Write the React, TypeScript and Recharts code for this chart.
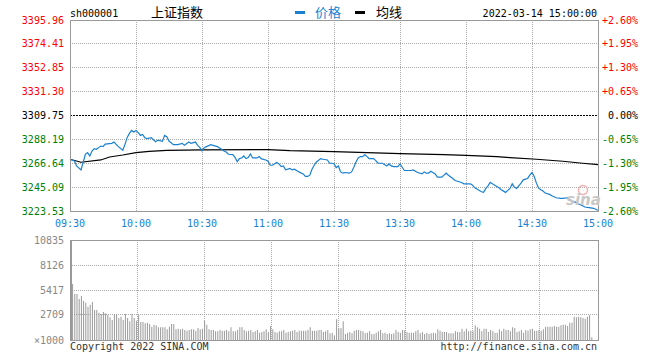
import React from "react";
import {
  LineChart, Line, BarChart, Bar, XAxis, YAxis, CartesianGrid, ReferenceLine,
} from "recharts";

// 上证指数 2022-03-14 intraday, one minute = one step on the time axis (0 = 09:30, 240 = 15:00)
const PREV_CLOSE = 3309.75;
const PRICE_TICKS = [3223.53, 3245.09, 3266.64, 3288.19, 3309.75, 3331.3, 3352.85, 3374.41, 3395.96];
const PCT_LABELS = ["-2.60%", "-1.95%", "-1.30%", "-0.65%", "0.00%", "+0.65%", "+1.30%", "+1.95%", "+2.60%"];
const VOL_TICKS = [0, 2709, 5417, 8126, 10835];
const VOL_LABELS = ["\u00d71000", "2709", "5417", "8126", "10835"];
const TIME_TICKS = [0, 30, 60, 90, 120, 150, 180, 210, 240];
const TIME_LABELS = ["09:30", "10:00", "10:30", "11:00", "11:30", "13:30", "14:00", "14:30", "15:00"];

const PRICE_MIN = [
  0, 2, 3, 5, 6, 7, 8, 9, 10, 11, 12, 13, 14, 15, 16, 19, 20, 21, 22, 24, 25, 26, 27, 28, 29, 30,
  31, 32, 33, 34, 35, 37, 38, 39, 40, 42, 43, 44, 45, 47, 49, 51, 52, 54, 55, 57, 58, 59, 60,
  61, 62, 64, 65, 67, 68, 70, 71, 72, 74, 75, 76, 77, 78, 79, 80, 81, 82, 83, 85, 86, 87, 89, 90,
  91, 92, 94, 95, 96, 97, 98, 100, 101, 102, 103, 104, 106, 107, 108, 109, 110, 111, 112, 114, 115, 117, 118, 119, 120,
  121, 122, 123, 124, 125, 127, 128, 129, 130, 131, 132, 133, 134, 135, 136, 138, 139, 140, 142, 144, 145, 146, 147, 149, 150,
  151, 152, 155, 156, 158, 160, 161, 162, 163, 164, 166, 167, 169, 170, 171, 172, 174, 175, 178, 179, 182, 183, 184, 185,
  187, 188, 189, 190, 191, 192, 194, 195, 196, 198, 199, 200, 201, 202, 203, 204, 205, 206, 207, 208, 209, 210,
  211, 212, 213, 214, 215, 216, 218, 219, 221, 223, 224, 226, 227, 228, 230, 231, 233, 234, 236, 238, 240,
];
const PRICE_VAL = [
  3270.24, 3268.71, 3264.22, 3260.63, 3267.54, 3274.73, 3276.25, 3273.2, 3277.69, 3279.85, 3279.22, 3280.74, 3282.18, 3281.64, 3283.98, 3284.61, 3285.77, 3283.71, 3281.64, 3278.32, 3283.71, 3289.99, 3293.59, 3296.28, 3294.93, 3296.28,
  3294.21, 3291.79, 3292.69, 3289.72, 3288.83, 3289.72, 3287.57, 3286.13, 3287.57, 3286.4, 3291.79, 3290.62, 3286.67, 3283.44, 3283.44, 3284.61, 3282.81, 3285.77, 3284.61, 3285.77, 3282.81, 3281.01, 3277.87,
  3280.74, 3281.64, 3283.44, 3282.81, 3281.64, 3280.39, 3277.69, 3276.79, 3274.73, 3274.46, 3272.03, 3268.17, 3270.87, 3271.41, 3273.2, 3270.87, 3271.76, 3275.0, 3271.41, 3271.41, 3272.66, 3270.51, 3269.61, 3268.44,
  3264.85, 3264.85, 3267.27, 3266.02, 3263.68, 3264.22, 3260.63, 3261.89, 3260.63, 3261.26, 3260.09, 3258.83, 3257.04, 3254.7, 3254.7, 3255.87, 3261.26, 3264.85, 3267.81, 3270.87, 3270.24, 3269.61, 3266.65, 3266.65, 3266.2,
  3262.78, 3264.22, 3258.83, 3257.67, 3258.29, 3257.67, 3258.83, 3263.05, 3267.81, 3271.41, 3272.66, 3272.66, 3274.46, 3272.66, 3270.87, 3270.87, 3269.07, 3266.65, 3266.65, 3264.22, 3266.02, 3264.22, 3263.68, 3263.68, 3266.02,
  3263.05, 3260.09, 3260.09, 3260.63, 3258.29, 3257.04, 3258.83, 3257.67, 3257.67, 3259.46, 3257.04, 3254.07, 3254.07, 3255.87, 3257.67, 3255.87, 3252.91, 3251.11, 3249.31, 3248.06, 3248.06, 3246.89, 3244.47, 3243.3,
  3240.87, 3240.33, 3243.93, 3246.26, 3249.31, 3248.06, 3245.72, 3244.47, 3242.67, 3240.33, 3242.13, 3243.93, 3248.06, 3245.09, 3243.93, 3246.26, 3248.69, 3251.65, 3252.28, 3252.91, 3255.87, 3258.29,
  3254.7, 3248.69, 3244.2, 3242.67, 3241.5, 3239.71, 3238.54, 3237.28, 3235.49, 3234.95, 3234.95, 3235.49, 3234.32, 3232.52, 3231.35, 3230.1, 3228.3, 3227.13, 3226.51, 3225.97, 3224.2,
];

const AVG_MIN = [0, 5, 14, 18, 24, 30, 36, 44, 60, 90, 100, 120, 135, 150, 170, 180, 194, 200, 212, 224, 233, 240];
const AVG_VAL = [
  3270.24, 3267.54, 3269.61, 3272.3, 3274.1, 3276.25, 3277.42, 3278.32, 3278.77, 3278.95, 3278.05,
  3277.15, 3276.25, 3275.36, 3274.46, 3273.83, 3272.66, 3271.76, 3270.24, 3268.44, 3266.65, 3265.48,
];

// volume per minute, in the units of the volume axis labels
const VOLUME = [
  6065, 4982, 4982, 4440, 4765, 4260, 4043, 3610, 3827, 4115, 3249, 3249, 2960, 2816, 3032, 2888, 2744, 2455, 2166, 2744, 2744, 2383, 2527, 2166, 2816, 2383, 2022, 2816, 2383, 2094, 2671,
  1949, 1949, 1805, 1877, 1733, 1444, 1660, 1588, 1372, 1372, 1372, 1372, 1155, 1444, 1733, 1733, 1155, 1227, 1155, 1227, 1083, 1011, 1083, 1155, 1155, 1011, 1300, 1155, 1227, 2050,
  1660, 1155, 1083, 1083, 939, 939, 1083, 1011, 1011, 1083, 939, 1372, 939, 939, 1083, 1372, 1372, 1083, 939, 1011, 1083, 866, 939, 1083, 794, 866, 939, 1155, 866, 1516,
  1155, 866, 794, 939, 939, 1083, 794, 866, 939, 1011, 1083, 866, 1011, 1011, 1011, 1011, 1083, 1372, 1011, 1011, 1011, 1083, 1083, 866, 939, 1083, 722, 794, 505, 2238,
  1227, 1300, 2022, 650, 794, 866, 722, 1011, 1083, 1083, 1011, 939, 722, 794, 939, 650, 650, 794, 939, 1083, 722, 794, 650, 722, 650, 722, 1083, 866, 794,
  1083, 1083, 866, 794, 794, 794, 939, 1083, 722, 866, 650, 794, 650, 722, 794, 722, 1155, 1011, 866, 866, 866, 722, 722, 722, 939, 866, 866, 1227,
  939, 1227, 939, 1011, 939, 1588, 1372, 1227, 939, 1227, 1227, 866, 1083, 939, 794, 794, 1155, 939, 1227, 1083, 1083, 939, 1372, 1300, 866, 939, 1083, 794,
  1083, 1011, 1155, 1227, 1011, 1011, 1083, 1011, 1155, 1444, 1444, 1444, 1444, 1516, 1444, 1444, 1588, 1660, 1660, 1516, 1877, 1877, 2527, 2455, 2527, 2455, 2383, 2310, 2527, 2671,
  289,
];

const RED = "#ff0000";
const GREEN = "#008000";
const BLUE = "#1a80d2";
const GRID = "#aaaaaa";
const FRAME = "#999999";
const MONO = "'DejaVu Sans Mono', 'Liberation Mono', monospace";
const CJK = "'Noto Sans CJK SC', sans-serif";

const priceRows = (() => {
  const m = new Map<number, { t: number; price?: number; avg?: number }>();
  PRICE_MIN.forEach((t, i) => m.set(t, { ...(m.get(t) || { t }), price: PRICE_VAL[i] }));
  AVG_MIN.forEach((t, i) => m.set(t, { ...(m.get(t) || { t }), avg: AVG_VAL[i] }));
  return [...m.values()].sort((a, b) => a.t - b.t);
})();

const volRows = VOLUME.map((v, k) => ({ k, v }));

function PriceTick({ y, payload }: any) {
  const v = payload.value;
  const i = PRICE_TICKS.indexOf(v);
  const color = v > PREV_CLOSE + 0.001 ? RED : v < PREV_CLOSE - 0.001 ? GREEN : "#000";
  return (
    <g fontFamily={MONO} fontSize={10}>
      <text x={64} y={y} dy={3.5} textAnchor="end" fill={color}>{v.toFixed(2)}</text>
      <text x={638} y={y} dy={3.5} textAnchor="end" fill={color}>{PCT_LABELS[i]}</text>
    </g>
  );
}

function TimeTick({ x, payload }: any) {
  const i = TIME_TICKS.indexOf(payload.value);
  return (
    <text x={x} y={227} textAnchor="middle" fill={BLUE} fontFamily={MONO} fontSize={10}>
      {TIME_LABELS[i]}
    </text>
  );
}

function VolTick({ y, payload }: any) {
  const i = VOL_TICKS.indexOf(payload.value);
  return (
    <text x={64} y={y} dy={3.5} textAnchor="end" fill="#888" fontFamily={MONO} fontSize={10}>
      {VOL_LABELS[i]}
    </text>
  );
}

const box = (left: number, top: number, width: number, height: number, extra = {}) => ({
  position: "absolute" as const, left, top, width, height, boxSizing: "border-box" as const,
  border: `1px solid ${FRAME}`, pointerEvents: "none" as const, ...extra,
});

export default function App() {
  return (
    <div style={{ position: "absolute", left: 0, top: 0, width: 660, height: 360, background: "#fff", overflow: "hidden" }}>
      {/* price panel */}
      <div style={{ position: "absolute", left: 0, top: 0 }}>
        <LineChart width={660} height={240} data={priceRows} margin={{ top: 20, right: 62, bottom: 0, left: 0 }}>
          <CartesianGrid
            stroke={GRID}
            strokeDasharray="1 1"
            shapeRendering="crispEdges"
            horizontalValues={PRICE_TICKS.filter((v) => v !== PREV_CLOSE)}
            verticalValues={TIME_TICKS}
          />
          <XAxis dataKey="t" type="number" domain={[0, 240]} ticks={TIME_TICKS} interval={0}
            tick={<TimeTick />} axisLine={false} tickLine={false} height={29} />
          <YAxis type="number" domain={[PRICE_TICKS[0], PRICE_TICKS[8]]} ticks={PRICE_TICKS} interval={0}
            allowDataOverflow tick={<PriceTick />} axisLine={false} tickLine={false} width={70} />
          <ReferenceLine y={PREV_CLOSE} stroke="#000" strokeDasharray="2 1" shapeRendering="crispEdges" />
          <Line type="linear" dataKey="avg" stroke="#000" strokeWidth={1.2} dot={false} connectNulls isAnimationActive={false} />
          <Line type="linear" dataKey="price" stroke={BLUE} strokeWidth={1.2} dot={false} connectNulls isAnimationActive={false} />
        </LineChart>
      </div>
      <div style={box(70, 20, 529, 192)} />

      {/* volume panel */}
      <div style={{ position: "absolute", left: 0, top: 232 }}>
        <BarChart width={660} height={120} data={volRows} margin={{ top: 8, right: 62, bottom: 12, left: 0 }}>
          <CartesianGrid
            xAxisId="time"
            stroke={GRID}
            strokeDasharray="1 1"
            shapeRendering="crispEdges"
            horizontalValues={VOL_TICKS.slice(1, 4)}
            verticalValues={TIME_TICKS.slice(1, 8)}
          />
          <XAxis xAxisId="time" type="number" domain={[0, 240]} ticks={TIME_TICKS} hide />
          <XAxis xAxisId="bar" dataKey="k" type="number" domain={[-1, 239]} hide />
          <YAxis type="number" domain={[0, 10835]} ticks={VOL_TICKS} interval={0} allowDataOverflow
            tick={<VolTick />} axisLine={false} tickLine={false} width={70} />
          <Bar xAxisId="bar" dataKey="v" fill="#999" barSize={1} isAnimationActive={false} />
        </BarChart>
      </div>
      <div style={box(70, 240, 529, 101, { borderLeft: `2px solid ${FRAME}` })} />

      {/* texts */}
      <svg width={660} height={360} style={{ position: "absolute", left: 0, top: 0, pointerEvents: "none" }}>
        <text x={70} y={17} fontFamily={MONO} fontSize={10} fill="#000">sh000001</text>
        <text x={151} y={17} fontFamily={CJK} fontSize={13} fill="#000">上证指数</text>
        <rect x={295} y={11} width={10} height={3} fill={BLUE} />
        <text x={315} y={17} fontFamily={CJK} fontSize={13} fill={BLUE}>价格</text>
        <rect x={355} y={11} width={10} height={3} fill="#000" />
        <text x={376} y={17} fontFamily={CJK} fontSize={13} fill="#000">均线</text>
        <text x={597} y={17} textAnchor="end" fontFamily={MONO} fontSize={10} fill="#000">2022-03-14 15:00:00</text>

        <circle cx={583} cy={190} r={4.5} fill="none" stroke="#f3b0b0" strokeWidth={1.5} />
        <text x={566} y={205} fontFamily="'DejaVu Sans', sans-serif" fontStyle="italic" fontWeight="bold" fontSize={15} fill="#c8c8c8">sina</text>

        <text x={70} y={350} fontFamily={MONO} fontSize={10} fill="#333">Copyright 2022 SINA.COM</text>
        <text x={597} y={350} textAnchor="end" fontFamily={MONO} fontSize={10} fill="#333">http://finance.sina.com.cn</text>
      </svg>
    </div>
  );
}
